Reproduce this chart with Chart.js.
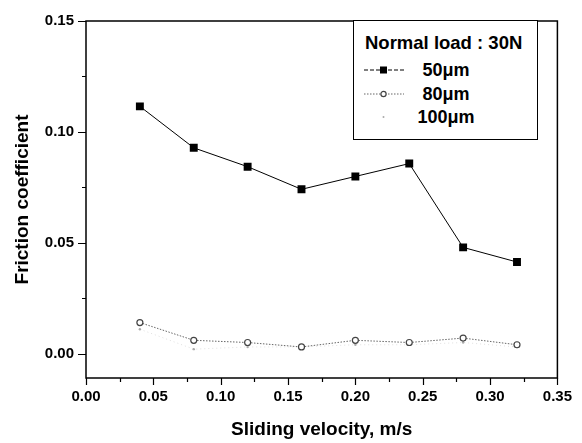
<!DOCTYPE html>
<html>
<head>
<meta charset="utf-8">
<script src="https://cdn.jsdelivr.net/npm/chart.js@4.4.1/dist/chart.umd.min.js"></script>
<style>
    html, body { margin: 0; padding: 0; background: #fff; }
    #wrap { position: relative; width: 582px; height: 443px; }
    #legend {
        position: absolute; left: 353px; top: 20px; width: 185px; height: 120px;
        border: 1px solid #000; background: #fff; box-sizing: border-box;
        font-family: 'Liberation Sans', Arial, sans-serif; font-weight: bold; color: #000;
    }
    #legend .title { position: absolute; left: 11px; top: 11px; font-size: 18.5px; white-space: nowrap; }
    #legend .row { position: absolute; left: 8px; height: 22px; display: flex; align-items: center; font-size: 18px; }
    #legend .row svg { width: 44px; height: 12px; margin-right: 5px; }
    #legend .row span { display: inline-block; width: 70px; text-align: center; }
</style>
</head>
<body>
<div id="wrap">
    <canvas id="chart"></canvas>
    <div id="legend">
        <div class="title">Normal load : 30N</div>
        <div class="row" style="top:38px;">
            <svg viewBox="0 0 44 12"><line x1="2" y1="6" x2="42" y2="6" stroke="#000" stroke-width="1" stroke-dasharray="4,2"/><rect x="18" y="2.5" width="7" height="7" fill="#000"/></svg>
            <span>50μm</span>
        </div>
        <div class="row" style="top:62px;">
            <svg viewBox="0 0 44 12"><line x1="2" y1="6" x2="42" y2="6" stroke="#666" stroke-width="1" stroke-dasharray="1.5,1.5"/><circle cx="21.5" cy="6" r="2.6" fill="#fff" stroke="#444" stroke-width="1.2"/></svg>
            <span>80μm</span>
        </div>
        <div class="row" style="top:85px;">
            <svg viewBox="0 0 44 12"><circle cx="21.5" cy="6" r="1" fill="#aaa"/></svg>
            <span>100μm</span>
        </div>
    </div>
</div>
<script>
const velocity = [0.04, 0.08, 0.12, 0.16, 0.20, 0.24, 0.28, 0.32];
const friction50 = [0.1115, 0.0928, 0.0843, 0.0741, 0.0799, 0.0857, 0.0479, 0.0413];
const friction80 = [0.014, 0.006, 0.005, 0.003, 0.006, 0.005, 0.007, 0.004];
const friction100 = [0.011, 0.002, 0.003, 0.003, 0.004, 0.004, 0.005, 0.003];
const xTicks = [0.00, 0.05, 0.10, 0.15, 0.20, 0.25, 0.30, 0.35];
const yTicks = [0.00, 0.05, 0.10, 0.15];

const toPoints = ys => velocity.map((x, i) => ({ x: x, y: ys[i] }));
const isMajor = v => Math.abs(v / 0.05 - Math.round(v / 0.05)) < 1e-6;

const tickFont = { family: "'Liberation Sans', Arial", size: 15, weight: 'bold' };
const titleFont = { family: "'Liberation Sans', Arial", size: 19, weight: 'bold' };

// frame + outward ticks (major long, minor short)
const framePlugin = {
    id: 'frame',
    afterDraw(chart) {
        const { ctx, chartArea: a, scales } = chart;
        ctx.save();
        ctx.strokeStyle = '#000';
        ctx.lineWidth = 1.5;
        ctx.strokeRect(a.left, a.top, a.right - a.left, a.bottom - a.top);
        ctx.lineWidth = 1.2;
        ctx.beginPath();
        scales.x.ticks.forEach(t => {
            const px = Math.round(scales.x.getPixelForValue(t.value)) + 0.5;
            const len = isMajor(t.value) ? 7 : 4;
            ctx.moveTo(px, a.bottom);
            ctx.lineTo(px, a.bottom + len);
        });
        scales.y.ticks.forEach(t => {
            const py = Math.round(scales.y.getPixelForValue(t.value)) + 0.5;
            const len = isMajor(t.value) ? 8 : 4;
            ctx.moveTo(a.left, py);
            ctx.lineTo(a.left - len, py);
        });
        ctx.stroke();
        ctx.restore();
    }
};

new Chart(document.getElementById('chart'), {
    type: 'line',
    data: {
        datasets: [
            {
                label: '50μm',
                data: toPoints(friction50),
                borderColor: '#000',
                backgroundColor: '#000',
                borderWidth: 1,
                pointStyle: 'rect',
                pointRadius: 5.6,
                pointBorderWidth: 0
            },
            {
                label: '80μm',
                data: toPoints(friction80),
                borderColor: '#666',
                borderDash: [1.5, 1.5],
                borderWidth: 1,
                pointStyle: 'circle',
                pointRadius: 3,
                pointBorderColor: '#444',
                pointBackgroundColor: '#fff',
                pointBorderWidth: 1.2
            },
            {
                label: '100μm',
                data: toPoints(friction100),
                borderColor: '#d8d8d8',
                borderDash: [1, 3],
                borderWidth: 0.8,
                pointStyle: 'circle',
                pointRadius: 1.2,
                pointBackgroundColor: '#aaa',
                pointBorderWidth: 0
            }
        ]
    },
    options: {
        responsive: true,
        maintainAspectRatio: false,
        animation: false,
        layout: { padding: { top: 15, right: 24, left: 0, bottom: 0 } },
        plugins: { legend: { display: false }, tooltip: { enabled: false } },
        scales: {
            x: {
                type: 'linear',
                min: 0,
                max: 0.35,
                afterFit: s => { s.height = 65; },
                grid: { display: false, drawTicks: false },
                border: { display: false },
                ticks: {
                    stepSize: 0.025,
                    autoSkip: false,
                    maxRotation: 0,
                    padding: 10,
                    color: '#000',
                    font: tickFont,
                    callback: v => {
                        const hit = xTicks.find(t => Math.abs(t - v) < 1e-6);
                        return hit === undefined ? '' : hit.toFixed(2);
                    }
                },
                title: {
                    display: true,
                    text: 'Sliding velocity, m/s',
                    color: '#000',
                    font: titleFont,
                    padding: { top: 0, bottom: 2 }
                }
            },
            y: {
                type: 'linear',
                min: -0.011,
                max: 0.15,
                afterFit: s => { s.width = 86; },
                grid: { display: false, drawTicks: false },
                border: { display: false },
                ticks: {
                    stepSize: 0.025,
                    includeBounds: false,
                    autoSkip: false,
                    padding: 12,
                    color: '#000',
                    font: tickFont,
                    callback: v => {
                        const hit = yTicks.find(t => Math.abs(t - v) < 1e-6);
                        return hit === undefined ? '' : hit.toFixed(2);
                    }
                },
                title: {
                    display: true,
                    text: 'Friction coefficient',
                    color: '#000',
                    font: titleFont,
                    padding: { top: 11, bottom: 0 }
                }
            }
        }
    },
    plugins: [framePlugin]
});
</script>
</body>
</html>
